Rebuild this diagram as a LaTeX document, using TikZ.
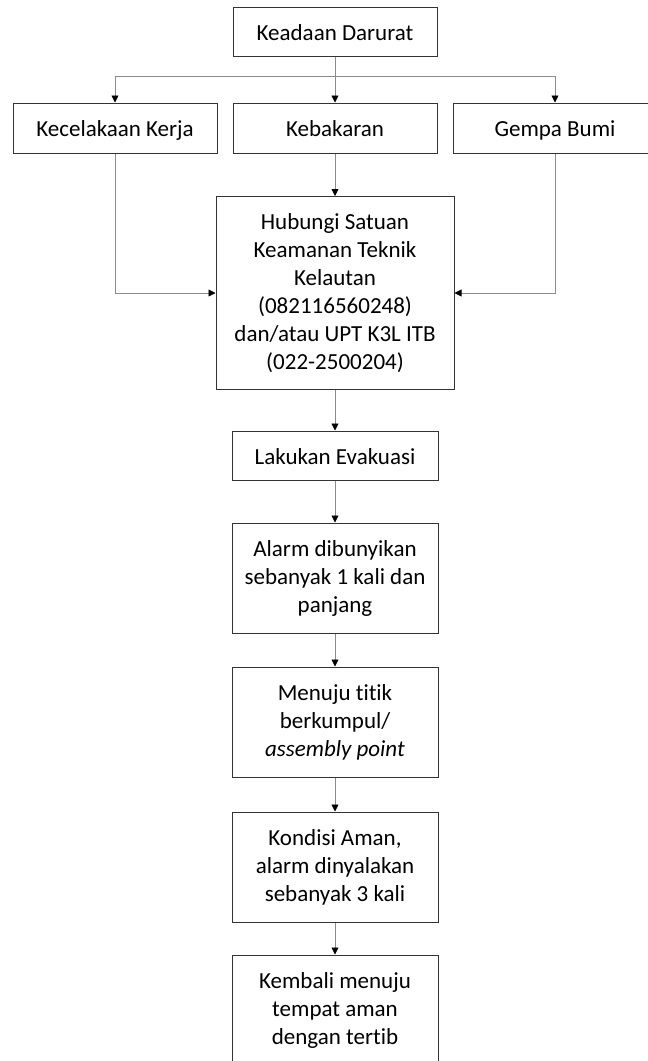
\documentclass[tikz,border=0pt]{standalone}
\usepackage{fontspec}
\setmainfont[Ligatures=NoCommon]{Carlito}
\usetikzlibrary{arrows.meta}

\begin{document}
\begin{tikzpicture}[x=1pt,y=1pt,
    stepbox/.style={draw=black!80, line width=1pt, align=center, inner sep=0pt,
        font=\fontsize{23}{28}\selectfont},
    lowbox/.style={stepbox, minimum width=204pt, minimum height=49pt,
        text height=21pt, text depth=4pt},
    highbox/.style={stepbox, minimum width=206pt, minimum height=110pt},
    flow/.style={draw=black!45, line width=0.8pt,
        -{Triangle[length=7pt,width=7pt,color=black]}}]
    \useasboundingbox (0,0) rectangle (648,-1061);
    \clip (0,0) rectangle (648,-1061);
    \node[lowbox] (darurat) at (335,-31.5) {Keadaan Darurat};
    \coordinate (cabang) at (335,-76);
    \node[lowbox, minimum height=50pt] (kerja) at (115,-128) {Kecelakaan Kerja};
    \node[lowbox, minimum height=50pt] (kebakaran) at (335,-128) {Kebakaran};
    \node[lowbox, minimum height=50pt] (gempa) at (555,-128) {Gempa Bumi};
    \node[stepbox, minimum width=238pt, minimum height=193pt] (hubungi) at (335,-293)
        {Hubungi Satuan\\ Keamanan Teknik\\ Kelautan\\ (082116560248)\\ dan/atau UPT K3L ITB\\ (022-2500204)};
    \node[lowbox, minimum width=206pt] (evakuasi) at (335,-455.5) {Lakukan Evakuasi};
    \node[highbox] (alarm) at (335,-578) {Alarm dibunyikan\\ sebanyak 1 kali dan\\ panjang};
    \node[highbox] (kumpul) at (335,-722) {Menuju titik\\ berkumpul/\\ \textit{assembly point}};
    \node[highbox] (aman) at (335,-867) {Kondisi Aman,\\ alarm dinyalakan\\ sebanyak 3 kali};
    \node[highbox] (kembali) at (335,-1010) {Kembali menuju\\ tempat aman\\ dengan tertib};
    \draw[flow] (darurat) -- (kebakaran);
    \draw[flow] (cabang) -| (kerja);
    \draw[flow] (cabang) -| (gempa);
    \draw[flow] (kebakaran) -- (hubungi);
    \draw[flow] (kerja) |- (hubungi);
    \draw[flow] (gempa) |- (hubungi);
    \draw[flow] (hubungi) -- (evakuasi);
    \draw[flow] (evakuasi) -- (alarm);
    \draw[flow] (alarm) -- (kumpul);
    \draw[flow] (kumpul) -- (aman);
    \draw[flow] (aman) -- (kembali);
\end{tikzpicture}
\end{document}
